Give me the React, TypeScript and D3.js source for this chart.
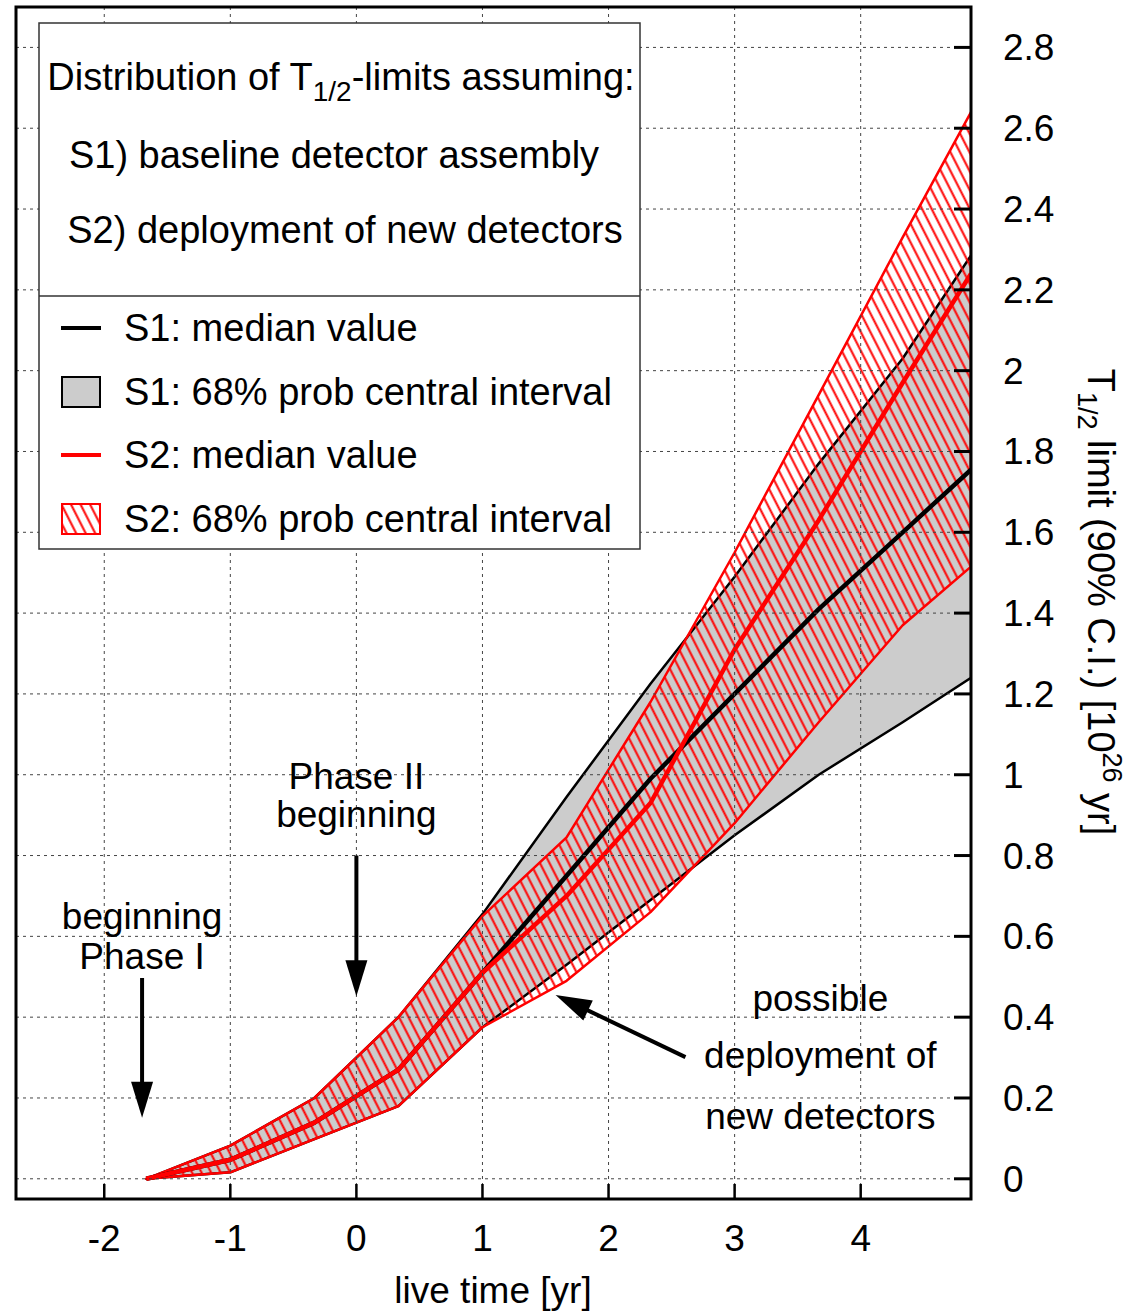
import React from "react";
import * as d3 from "d3";

// ---------- data ----------
const liveTime = [-1.667, -1, -0.333, 0.333, 1, 1.667, 2.333, 3, 3.667, 4.333, 4.875];
const s1Median = [0, 0.047, 0.139, 0.27, 0.51, 0.75, 0.99, 1.2, 1.41, 1.6, 1.755];
const s1Upper = [0, 0.082, 0.2, 0.4, 0.655, 0.945, 1.225, 1.49, 1.77, 2.03, 2.285];
const s1Lower = [0, 0.016, 0.098, 0.18, 0.375, 0.53, 0.69, 0.85, 1.0, 1.13, 1.24];
const s2Median = [0, 0.047, 0.139, 0.27, 0.51, 0.7, 0.93, 1.31, 1.63, 1.97, 2.24];
const s2Upper = [0, 0.082, 0.2, 0.4, 0.65, 0.845, 1.18, 1.55, 1.94, 2.33, 2.64];
const s2Lower = [0, 0.016, 0.098, 0.18, 0.375, 0.49, 0.66, 0.88, 1.13, 1.37, 1.515];

const xTicks = [-2, -1, 0, 1, 2, 3, 4];
const xTickLabels = ["-2", "-1", "0", "1", "2", "3", "4"];
const yTicks = [0, 0.2, 0.4, 0.6, 0.8, 1, 1.2, 1.4, 1.6, 1.8, 2, 2.2, 2.4, 2.6, 2.8];
const yTickLabels = ["0", "0.2", "0.4", "0.6", "0.8", "1", "1.2", "1.4", "1.6", "1.8", "2", "2.2", "2.4", "2.6", "2.8"];

const legendEntries = ["S1: median value", "S1: 68% prob central interval", "S2: median value", "S2: 68% prob central interval"];

// annotation texts (positions in data units)
const annotationTexts = [
  { t: 0, lines: ["Phase II", "beginning"], v: [0.965, 0.871] },
  { t: -1.7, lines: ["beginning", "Phase I"], v: [0.618, 0.519] },
  { t: 3.68, lines: ["possible", "deployment of", "new detectors"], v: [0.415, 0.274, 0.123] },
];
const arrows = [
  { from: [-1.7, 0.497], to: [-1.7, 0.151] },
  { from: [0, 0.8], to: [0, 0.452] },
  { from: [2.61, 0.301], to: [1.58, 0.455] },
];

const W = 1133;
const H = 1313;
const plot = { left: 16, right: 971, top: 7, bottom: 1199 };
const FONT = "'Liberation Sans', Arial, Helvetica, sans-serif";
const FS = 37;
const LFS = 38;

export default function App() {
  const x = d3.scaleLinear().domain([-2.7, 4.875]).range([plot.left, plot.right]);
  const y = d3.scaleLinear().domain([-0.05, 2.9]).range([plot.bottom, plot.top]);
  const idx = liveTime.map((_, i) => i);

  const areaPath = (lo: number[], hi: number[]) =>
    d3
      .area<number>()
      .x((i) => x(liveTime[i]))
      .y0((i) => y(lo[i]))
      .y1((i) => y(hi[i]))(idx) as string;
  const linePath = (vals: number[]) =>
    d3
      .line<number>()
      .x((i) => x(liveTime[i]))
      .y((i) => y(vals[i]))(idx) as string;

  const arrowEls = arrows.map((a, k) => {
    const x1 = x(a.from[0]);
    const y1 = y(a.from[1]);
    const x2 = x(a.to[0]);
    const y2 = y(a.to[1]);
    const dx = x2 - x1;
    const dy = y2 - y1;
    const len = Math.hypot(dx, dy);
    const ux = dx / len;
    const uy = dy / len;
    const hl = 36;
    const hw = 11;
    const bx = x2 - ux * hl;
    const by = y2 - uy * hl;
    const pts = [
      [x2, y2],
      [bx - uy * hw, by + ux * hw],
      [bx + uy * hw, by - ux * hw],
    ];
    return (
      <g key={k}>
        <line x1={x1} y1={y1} x2={bx + ux * 2} y2={by + uy * 2} stroke="#000" strokeWidth={4} />
        <polygon points={pts.map((p) => p.join(",")).join(" ")} fill="#000" />
      </g>
    );
  });

  const legendRowY = [328, 392, 455, 519];

  return (
    <svg
      width={W}
      height={H}
      viewBox={`0 0 ${W} ${H}`}
      style={{ position: "absolute", left: 0, top: 0, background: "#fff" }}
      fontFamily={FONT}
    >
      <defs>
        <pattern id="hatch" patternUnits="userSpaceOnUse" width={8.5} height={10} patternTransform="rotate(-27)">
          <line x1={4.25} y1={-1} x2={4.25} y2={11} stroke="#ff0000" strokeWidth={2} />
        </pattern>
        <clipPath id="plotClip">
          <rect x={plot.left} y={plot.top} width={plot.right - plot.left} height={plot.bottom - plot.top} />
        </clipPath>
      </defs>
      <rect x={0} y={0} width={W} height={H} fill="#fff" />

      <g clipPath="url(#plotClip)">
        {/* S1 band */}
        <path d={areaPath(s1Lower, s1Upper)} fill="#cccccc" stroke="#000" strokeWidth={2.5} strokeLinejoin="round" />
        {/* S2 band */}
        <path d={areaPath(s2Lower, s2Upper)} fill="url(#hatch)" stroke="#ff0000" strokeWidth={2.5} strokeLinejoin="round" />
        {/* medians */}
        <path d={linePath(s1Median)} fill="none" stroke="#000" strokeWidth={4.5} strokeLinejoin="round" />
        <path d={linePath(s2Median)} fill="none" stroke="#ff0000" strokeWidth={4.5} strokeLinejoin="round" />

        {/* grid (front) */}
        {xTicks.map((t) => (
          <line key={"gx" + t} x1={x(t)} x2={x(t)} y1={plot.top} y2={plot.bottom} stroke="#444" strokeWidth={1} strokeDasharray="3,4" />
        ))}
        {yTicks.map((v) => (
          <line key={"gy" + v} x1={plot.left} x2={plot.right} y1={y(v)} y2={y(v)} stroke="#444" strokeWidth={1} strokeDasharray="3,4" />
        ))}
      </g>

      {/* ticks */}
      {xTicks.map((t) => (
        <line key={"tx" + t} x1={x(t)} x2={x(t)} y1={plot.bottom} y2={plot.bottom - 15} stroke="#000" strokeWidth={2.5} />
      ))}
      {yTicks.map((v) => (
        <line key={"ty" + v} x1={plot.right} x2={plot.right - 17} y1={y(v)} y2={y(v)} stroke="#000" strokeWidth={3} />
      ))}

      {/* annotations */}
      {annotationTexts.map((a, k) => (
        <g key={"an" + k}>
          {a.lines.map((s, j) => (
            <text key={j} x={x(a.t)} y={y(a.v[j])} textAnchor="middle" fontSize={FS} fill="#000">
              {s}
            </text>
          ))}
        </g>
      ))}
      {arrowEls}

      {/* legend */}
      <rect x={39} y={23} width={601} height={526} fill="#fff" stroke="#333" strokeWidth={1.5} />
      <line x1={39} x2={640} y1={296} y2={296} stroke="#333" strokeWidth={1.5} />
      <text x={341} y={90} textAnchor="middle" fontSize={LFS}>
        Distribution of T
        <tspan dy={11} fontSize={28}>1/2</tspan>
        <tspan dy={-11}>-limits assuming:</tspan>
      </text>
      <text x={334} y={168} textAnchor="middle" fontSize={LFS}>
        S1) baseline detector assembly
      </text>
      <text x={345} y={243} textAnchor="middle" fontSize={LFS}>
        S2) deployment of new detectors
      </text>
      {legendEntries.map((s, i) => (
        <text key={"le" + i} x={124} y={legendRowY[i] + 13} fontSize={LFS}>
          {s}
        </text>
      ))}
      <line x1={61} x2={101} y1={legendRowY[0]} y2={legendRowY[0]} stroke="#000" strokeWidth={4} />
      <rect x={62} y={377} width={38} height={30} fill="#cccccc" stroke="#000" strokeWidth={2} />
      <line x1={61} x2={101} y1={legendRowY[2]} y2={legendRowY[2]} stroke="#ff0000" strokeWidth={4} />
      <rect x={62} y={504} width={38} height={30} fill="url(#hatch)" stroke="#ff0000" strokeWidth={2} />

      {/* frame */}
      <rect x={plot.left} y={plot.top} width={plot.right - plot.left} height={plot.bottom - plot.top} fill="none" stroke="#000" strokeWidth={3} />

      {/* tick labels */}
      {xTicks.map((t, i) => (
        <text key={"lx" + t} x={x(t)} y={1251} textAnchor="middle" fontSize={FS}>
          {xTickLabels[i]}
        </text>
      ))}
      {yTicks.map((v, i) => (
        <text key={"ly" + v} x={1003} y={y(v) + 13} fontSize={FS}>
          {yTickLabels[i]}
        </text>
      ))}

      {/* axis titles */}
      <text x={493} y={1303} textAnchor="middle" fontSize={FS}>
        live time [yr]
      </text>
      <text transform="translate(1088,602) rotate(90)" textAnchor="middle" fontSize={LFS}>
        T
        <tspan dy={10} fontSize={27}>1/2</tspan>
        <tspan dy={-10}> limit (90% C.I.) [10</tspan>
        <tspan dy={-15} fontSize={27}>26</tspan>
        <tspan dy={15}> yr]</tspan>
      </text>
    </svg>
  );
}
